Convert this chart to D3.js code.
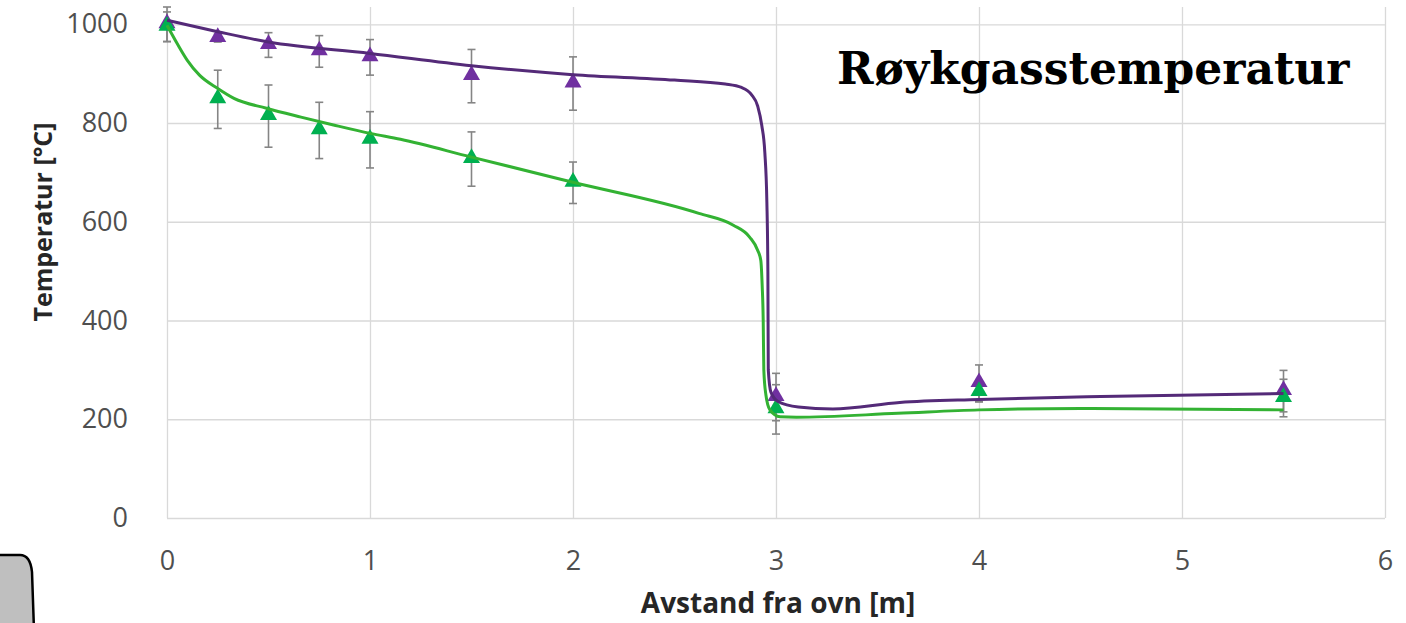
<!DOCTYPE html>
<html>
<head>
<meta charset="utf-8">
<script src="https://d3js.org/d3.v7.min.js"></script>
<style>
  body { margin: 0; background: #fff; }
  svg { display: block; }
</style>
</head>
<body>
<svg id="chart" width="1406" height="623"></svg>
<script>
// measured points (triangles) + error bars
const xMeasured = [0, 0.25, 0.5, 0.75, 1, 1.5, 2, 3, 4, 5.5];
const purpleMeasured = [1000, 972, 958, 945, 933, 895, 880, 245, 273, 257];
const purpleError = [35, 8, 25, 32, 36, 54, 54, 48, 37, 42];
const greenMeasured = [995, 848, 814, 785, 766, 727, 679, 220, 255, 243];
const greenError = [30, 59, 63, 57, 57, 55, 42, 50, 20, 38];

// model curves
const purpleCurveX = [0, 0.25, 0.5, 1.0, 1.5, 2.0, 2.5, 2.75, 2.83, 2.88, 2.91, 2.93, 2.945, 2.955, 2.96, 2.962, 2.975, 3.01, 3.11, 3.28, 3.61, 4.0, 4.6, 5.5];
const purpleCurveY = [1008, 985, 964, 941, 916, 898, 887, 879, 872, 857, 834, 795, 740, 640, 500, 300, 255, 236, 225, 221, 234, 240, 246, 252];
const greenCurveX = [0, 0.05, 0.1, 0.16, 0.25, 0.33, 0.49, 0.66, 0.82, 1.0, 1.15, 1.5, 2.0, 2.62, 2.79, 2.87, 2.91, 2.925, 2.932, 2.937, 2.94, 2.95, 2.97, 3.02, 3.1, 3.6, 4.0, 4.5, 5.5];
const greenCurveY = [998, 961, 927, 897, 870, 850, 830, 812, 796, 779, 767, 731, 680, 617, 593, 569, 542, 522, 470, 400, 300, 250, 219, 205, 204, 212, 219, 222, 219];

// axis ticks and texts
const xTicks = [0, 1, 2, 3, 4, 5, 6];
const yTicks = [0, 200, 400, 600, 800, 1000];
const chartTitle = "Røykgasstemperatur";
const xTitle = "Avstand fra ovn [m]";
const yTitle = "Temperatur [°C]";

const svg = d3.select("#chart");

let x = d3.scaleLinear().domain([0, 6]).range([167, 1385]);
let y = d3.scaleLinear().domain([0, 1035]).range([518, 7]);

//gridlines + tick labels through the axes
let gx = svg.append("g")
  .attr("transform", "translate(0," + y(0) + ")")
  .call(d3.axisBottom(x).tickValues(xTicks).tickFormat(d3.format("d"))
    .tickSize(-(y(0) - y.range()[1])).tickPadding(33));

let gy = svg.append("g")
  .attr("transform", "translate(" + x(0) + ",0)")
  .call(d3.axisLeft(y).tickValues(yTicks).tickFormat(d3.format("d"))
    .tickSize(-(x(6) - x(0))).tickPadding(39));

[gx, gy].forEach(function (g) {
  g.select(".domain").remove();
  g.selectAll(".tick line").attr("stroke", "#d9d9d9").attr("stroke-width", 1.3);
  g.selectAll(".tick text")
    .attr("fill", "#4f4f4f")
    .style("font-family", "'Open Sans', sans-serif")
    .style("font-size", "27px");
});

// error bars
function drawErrors(values, errors, color) {
  let g = svg.append("g").attr("stroke", color).attr("stroke-width", 1.6).attr("fill", "none");
  xMeasured.forEach(function (xv, i) {
    let px = x(xv);
    let top = y(values[i] + errors[i]);
    let bottom = y(values[i] - errors[i]);
    g.append("line").attr("x1", px).attr("x2", px).attr("y1", top).attr("y2", bottom);
    g.append("line").attr("x1", px - 4).attr("x2", px + 4).attr("y1", top).attr("y2", top);
    g.append("line").attr("x1", px - 4).attr("x2", px + 4).attr("y1", bottom).attr("y2", bottom);
  });
}
drawErrors(purpleMeasured, purpleError, "#858585");
drawErrors(greenMeasured, greenError, "#858585");

// triangles
let tri = d3.symbol().type(d3.symbolTriangle).size(125);
function drawMarkers(values, color) {
  svg.append("g").selectAll("path")
    .data(xMeasured.map(function (xv, i) { return [xv, values[i]]; }))
    .join("path")
    .attr("d", tri)
    .attr("transform", function (d) { return "translate(" + x(d[0]) + "," + (y(d[1]) - 1) + ")"; })
    .attr("fill", color);
}
drawMarkers(purpleMeasured, "#7030a0");
drawMarkers(greenMeasured, "#00b050");

// model lines on top
let line = d3.line()
  .x(function (d) { return x(d[0]); })
  .y(function (d) { return y(d[1]); })
  .curve(d3.curveMonotoneX);

svg.append("path")
  .datum(greenCurveX.map(function (xv, i) { return [xv, greenCurveY[i]]; }))
  .attr("d", line)
  .attr("fill", "none")
  .attr("stroke", "#33b233")
  .attr("stroke-width", 3);

svg.append("path")
  .datum(purpleCurveX.map(function (xv, i) { return [xv, purpleCurveY[i]]; }))
  .attr("d", line)
  .attr("fill", "none")
  .attr("stroke", "#542a78")
  .attr("stroke-width", 3);

// texts
svg.append("text")
  .attr("x", 837).attr("y", 84)
  .style("font-family", "'DejaVu Serif', serif")
  .style("font-weight", "bold")
  .style("font-size", "44px")
  .attr("fill", "#000")
  .text(chartTitle);

svg.append("text")
  .attr("x", 778).attr("y", 613)
  .attr("text-anchor", "middle")
  .style("font-family", "'Open Sans', sans-serif")
  .style("font-weight", "bold")
  .style("font-size", "28px")
  .attr("fill", "#262626")
  .text(xTitle);

svg.append("text")
  .attr("transform", "translate(52,222) rotate(-90)")
  .attr("text-anchor", "middle")
  .style("font-family", "'Open Sans', sans-serif")
  .style("font-weight", "bold")
  .style("font-size", "25px")
  .attr("fill", "#262626")
  .text(yTitle);

// leftover shape in the bottom-left corner of the picture
svg.append("path")
  .attr("d", "M-5,555 L20,555 C28,555 31,562 32,572 L34,630 L-5,630 Z")
  .attr("fill", "#bfbfbf")
  .attr("stroke", "#000")
  .attr("stroke-width", 2.5);
</script>
</body>
</html>
